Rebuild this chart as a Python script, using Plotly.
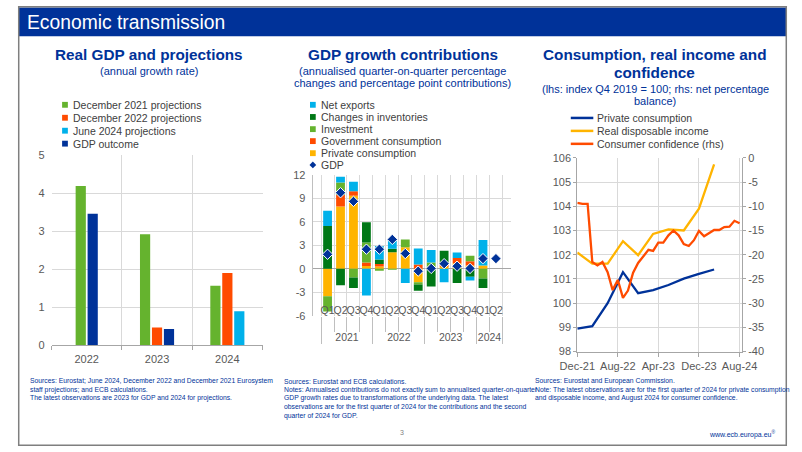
import plotly.graph_objects as go

# ---------------- data ----------------
# Chart 1: Real GDP and projections (annual growth rate)
years1 = ["2022", "2023", "2024"]
dec2021_proj = [4.19, 2.92, 1.56]
dec2022_proj = [None, 0.46, 1.90]
jun2024_proj = [None, None, 0.89]
gdp_outcome = [3.46, 0.42, None]
y1_ticks = [0, 1, 2, 3, 4, 5]

# Chart 2: GDP growth contributions
years2 = ["2021"] * 4 + ["2022"] * 4 + ["2023"] * 4 + ["2024"] * 2
quarters2 = ["Q1", "Q2", "Q3", "Q4"] * 3 + ["Q1", "Q2"]
private_cons_c = [-3.5, 7.95, 9.3, 0.35, 0.3, 2.1, 2.75, -1.7, 0.2, 0.3, 0.7, 0.42, 0.42, None]
government_c = [0.0, 1.45, 0.6, 0.45, 0.3, 0.0, 0.0, 0.55, 0.0, 0.2, 0.67, 0.53, 0.0, None]
investment_c = [-1.95, 1.6, -1.1, 2.55, -0.25, -0.1, 1.0, -0.3, 0.6, 0.0, 0.0, 0.7, -1.25, None]
inventories_c = [5.45, -2.1, -1.35, 2.6, 0.6, 0.45, 0.0, -0.8, -2.25, 1.8, -1.8, -1.0, -1.2, None]
net_exports_c = [1.95, 0.75, 1.2, -3.4, 1.7, 1.2, -1.8, 2.05, 1.6, -1.7, 0.7, -0.5, 3.25, None]
gdp_growth = [1.85, 9.7, 8.6, 2.5, 2.5, 3.75, 1.95, -0.3, 0.05, 0.65, 0.33, 0.05, 1.3, 1.3]
y2_ticks = [-6, -3, 0, 3, 6, 9, 12]

# Chart 3: Consumption, real income and confidence
quarter_dates = ["2021-12-01", "2022-03-01", "2022-06-01", "2022-09-01", "2022-12-01",
                 "2023-03-01", "2023-06-01", "2023-09-01", "2023-12-01", "2024-03-01"]
private_consumption = [98.95, 99.05, 100.0, 101.28, 100.41, 100.54, 100.75, 101.01, 101.21, 101.39]
real_disp_income = [102.09, 101.63, 101.63, 102.56, 101.98, 102.86, 103.05, 103.0, 103.9, 105.73]
month_dates = ["2021-12-01", "2022-01-01", "2022-02-01", "2022-03-01", "2022-04-01", "2022-05-01",
               "2022-06-01", "2022-07-01", "2022-08-01", "2022-09-01", "2022-10-01", "2022-11-01",
               "2022-12-01", "2023-01-01", "2023-02-01", "2023-03-01", "2023-04-01", "2023-05-01",
               "2023-06-01", "2023-07-01", "2023-08-01", "2023-09-01", "2023-10-01", "2023-11-01",
               "2023-12-01", "2024-01-01", "2024-02-01", "2024-03-01", "2024-04-01", "2024-05-01",
               "2024-06-01", "2024-07-01", "2024-08-01"]
consumer_confidence = [-9.3, -9.5, -9.5, -21.5, -22.2, -21.5, -23.6, -27.3, -25.2, -28.9, -27.4, -23.7,
                       -21.7, -20.3, -19.0, -19.2, -17.5, -17.5, -16.0, -15.0, -16.0, -17.8, -18.2, -17.0,
                       -15.1, -16.2, -15.5, -14.9, -14.9, -14.3, -14.2, -13.0, -13.5]
x3_tickdates = ["2021-12-01", "2022-08-01", "2023-04-01", "2023-12-01", "2024-08-01"]
x3_ticklabels = ["Dec-21", "Aug-22", "Apr-23", "Dec-23", "Aug-24"]
y3_ticks = [98, 99, 100, 101, 102, 103, 104, 105, 106]
y4_ticks = [-40, -35, -30, -25, -20, -15, -10, -5, 0]

# ---------------- style ----------------
W, H = 802, 452
def px(x): return x / W
def py(y): return 1 - y / H

FONT = "Liberation Sans, Arial, sans-serif"
NAVY = "#003299"
YELLOW = "#FFB400"
ORANGE = "#FF4B00"
GREEN = "#65B32E"
DKGREEN = "#007816"
LTBLUE = "#00B1EA"
GRID = "#D9D9D9"
AXIS = "#A6A6A6"
TICK = "#595959"
LEG = "#404040"
TF = dict(family=FONT, size=11, color=TICK)
LEG_SIZE = 10.5
TITLE_SIZE = 15.3

fig = go.Figure()

# ---- chart 1: grouped bars centred on their category ----
series1 = [("December 2021 projections", dec2021_proj, GREEN),
           ("December 2022 projections", dec2022_proj, ORANGE),
           ("June 2024 projections", jun2024_proj, LTBLUE),
           ("GDP outcome", gdp_outcome, NAVY)]
slot, barw = 0.17, 0.145
for name, vals, color in series1:
    xs, ys = [], []
    for i, v in enumerate(vals):
        if v is None:
            continue
        present = [s[0] for s in series1 if s[1][i] is not None]
        k = present.index(name)
        xs.append(i + (k - (len(present) - 1) / 2) * slot)
        ys.append(v)
    fig.add_trace(go.Bar(x=xs, y=ys, width=barw, name=name, marker=dict(color=color, line_width=0),
                         showlegend=False, xaxis="x", yaxis="y"))

# ---- chart 2: stacked contributions ----
series2 = [("Private consumption", private_cons_c, YELLOW),
           ("Government consumption", government_c, ORANGE),
           ("Investment", investment_c, GREEN),
           ("Changes in inventories", inventories_c, DKGREEN),
           ("Net exports", net_exports_c, LTBLUE)]
for name, vals, color in series2:
    fig.add_trace(go.Bar(x=[years2, quarters2], y=vals, width=0.68, name=name,
                         marker=dict(color=color, line_width=0), showlegend=False,
                         xaxis="x2", yaxis="y2"))
fig.add_trace(go.Scatter(x=[years2, quarters2], y=gdp_growth, mode="markers", name="GDP",
                         marker=dict(symbol="diamond", size=8, color=NAVY, line=dict(color="white", width=1)),
                         showlegend=False, xaxis="x2", yaxis="y2"))

# ---- chart 3: lines ----
fig.add_trace(go.Scatter(x=quarter_dates, y=private_consumption, mode="lines", name="Private consumption",
                         line=dict(color=NAVY, width=2.3), showlegend=False, xaxis="x3", yaxis="y3"))
fig.add_trace(go.Scatter(x=quarter_dates, y=real_disp_income, mode="lines", name="Real disposable income",
                         line=dict(color=YELLOW, width=2.3), showlegend=False, xaxis="x3", yaxis="y3"))
fig.add_trace(go.Scatter(x=month_dates, y=consumer_confidence, mode="lines", name="Consumer confidence (rhs)",
                         line=dict(color=ORANGE, width=2.3), showlegend=False, xaxis="x3", yaxis="y4"))

# ---------------- annotations ----------------
ann = []
def text(x, y, t, size=11, color=LEG, xanchor="left", yanchor="middle"):
    ann.append(dict(x=px(x), y=py(y), xref="paper", yref="paper", text=t, showarrow=False,
                    xanchor=xanchor, yanchor=yanchor, align="left",
                    font=dict(family=FONT, size=size, color=color)))

text(7, 17, "Economic transmission", size=19.3, color="white")

# chart titles
text(137, 50, "<b>Real GDP and projections</b>", TITLE_SIZE, NAVY, "center")
text(137, 67, "(annual growth rate)", 11, NAVY, "center")
text(401, 50, "<b>GDP growth contributions</b>", TITLE_SIZE, NAVY, "center")
text(401, 66.5, "(annualised quarter-on-quarter percentage", 11, NAVY, "center")
text(401, 79.5, "changes and percentage point contributions)", 11, NAVY, "center")
text(664, 50, "<b>Consumption, real income and</b>", TITLE_SIZE, NAVY, "center")
text(664, 68.5, "<b>confidence</b>", TITLE_SIZE, NAVY, "center")
text(665, 85, "(lhs: index Q4 2019 = 100; rhs: net percentage", 11, NAVY, "center")
text(664, 97.5, "balance)", 11, NAVY, "center")

shapes = []
# legends
leg1_y = [101.5, 114.8, 128.1, 141.4]
for (name, _, color), yy in zip(series1, leg1_y):
    shapes.append(dict(type="rect", xref="paper", yref="paper", x0=px(46), x1=px(52),
                       y0=py(yy + 3), y1=py(yy - 3), fillcolor=color, line_width=0))
    text(55, yy, name, LEG_SIZE, LEG)

leg2 = [("Net exports", LTBLUE), ("Changes in inventories", DKGREEN), ("Investment", GREEN),
        ("Government consumption", ORANGE), ("Private consumption", YELLOW)]
leg2_y = [101.5, 114, 126.5, 138.8, 151.2, 163.3]
for (name, color), yy in zip(leg2, leg2_y):
    shapes.append(dict(type="rect", xref="paper", yref="paper", x0=px(304.5), x1=px(310.5),
                       y0=py(yy + 3), y1=py(yy - 3), fillcolor=color, line_width=0))
    text(313.5, yy, name, LEG_SIZE, LEG)
cy = leg2_y[5]
shapes.append(dict(type="path", xref="paper", yref="paper",
                   path=f"M {px(307.5)},{py(cy-3.5)} L {px(311)},{py(cy)} L {px(307.5)},{py(cy+3.5)} L {px(304)},{py(cy)} Z",
                   fillcolor=NAVY, line_width=0))
text(313.5, cy, "GDP", LEG_SIZE, LEG)

leg3 = [("Private consumption", NAVY), ("Real disposable income", YELLOW), ("Consumer confidence (rhs)", ORANGE)]
leg3_y = [115, 128.3, 141.6]
for (name, color), yy in zip(leg3, leg3_y):
    shapes.append(dict(type="line", xref="paper", yref="paper", x0=px(576.5), x1=px(600),
                       y0=py(yy), y1=py(yy), line=dict(color=color, width=2.5)))
    text(602, yy, name, LEG_SIZE, LEG)

# footnotes
foot = [
    (10, ["Sources: Eurostat; June 2024, December 2022 and December 2021 Eurosystem",
          "staff projections; and ECB calculations.",
          "The latest observations are 2023 for GDP and 2024 for projections."]),
    (275, ["Sources: Eurostat and ECB calculations.",
           "Notes: Annualised contributions do not exactly sum to annualised quarter-on-quarter",
           "GDP growth rates due to transformations of the underlying data. The latest",
           "observations are for the first quarter of 2024 for the contributions and the second",
           "quarter of 2024 for GDP."]),
    (537, ["Sources: Eurostat and European Commission.",
           "Note: The latest observations are for the first quarter of 2024 for private consumption",
           "and disposable income, and August 2024 for consumer confidence."]),
]
for x0, lines in foot:
    for j, line in enumerate(lines):
        text(x0, 385.5 + j * 8.8, line, 6.8, NAVY)

text(400, 438, "3", 7, "#7F7F7F", "center")
text(792, 440, "www.ecb.europa.eu<sup>®</sup>", 7, NAVY, "right")

# title bar and frame
shapes.insert(0, dict(type="rect", xref="paper", yref="paper", x0=0, x1=1, y0=py(31), y1=py(1.5),
                      fillcolor=NAVY, line_width=0, layer="below"))
shapes.append(dict(type="rect", xref="paper", yref="paper", x0=px(0.75), x1=px(801.25),
                   y0=py(451.25), y1=py(0.75), line=dict(color="#7F7F7F", width=1.5)))

fig.update_layout(
    width=W, height=H, margin=dict(l=0, r=0, t=0, b=0, pad=0),
    paper_bgcolor="white", plot_bgcolor="white",
    barmode="relative", showlegend=False,
    font=dict(family=FONT, size=11, color=TICK),
    annotations=ann, shapes=shapes,
    xaxis=dict(domain=[px(35), px(255)], anchor="y", range=[-0.5, 2.5], tickvals=[0, 1, 2],
               ticktext=years1, showgrid=False, zeroline=False, ticks="", showline=True,
               linecolor=AXIS, linewidth=1, tickfont=TF, ticklabelstandoff=4,
               minor=dict(tickvals=[-0.5, 0.5, 1.5, 2.5], showgrid=True, gridcolor=GRID,
                          ticks="outside", ticklen=4, tickcolor=AXIS)),
    yaxis=dict(domain=[py(348.3), py(153.3)], anchor="x", range=[0, 5], tickvals=y1_ticks,
               ticktext=[str(v) for v in y1_ticks], showgrid=True, gridcolor=GRID, zeroline=False,
               showline=False, tickfont=TF, ticklabelstandoff=6),
    xaxis2=dict(type="multicategory", domain=[px(307.3), px(514)], anchor="y2",
                showgrid=True, gridcolor=GRID, showline=False, ticks="outside", ticklen=15,
                ticklabelstandoff=-13, tickcolor="#BFBFBF", dtick=1, tick0=0,
                showdividers=True, dividercolor="#BFBFBF", dividerwidth=1,
                tickangle=0, tickfont=dict(family=FONT, size=10.5, color=TICK), zeroline=False),
    yaxis2=dict(domain=[py(318.3), py(173.3)], anchor="x2", range=[-6, 12], tickvals=y2_ticks,
                ticktext=[str(v) for v in y2_ticks], showgrid=True, gridcolor=GRID,
                zeroline=True, zerolinecolor=AXIS, zerolinewidth=1, showline=True,
                linecolor="#BFBFBF", tickfont=TF, ticklabelstandoff=4),
    xaxis3=dict(type="date", domain=[px(583.3), px(755)], anchor="y3",
                range=["2021-12-01", "2024-08-15"], tickvals=x3_tickdates, ticktext=x3_ticklabels,
                showgrid=True, gridcolor=GRID, ticks="outside", ticklen=4, tickcolor=AXIS,
                showline=True, linecolor=AXIS, tickfont=TF, zeroline=False, tickangle=0),
    yaxis3=dict(domain=[py(355), py(156)], anchor="x3", range=[98, 106], tickvals=y3_ticks,
                ticktext=[str(v) for v in y3_ticks], showgrid=True, gridcolor=GRID,
                zeroline=False, showline=True, linecolor=AXIS, ticks="outside", ticklen=3,
                tickcolor=AXIS, tickfont=TF),
    yaxis4=dict(overlaying="y3", side="right", anchor="x3", range=[-40, 0], tickvals=y4_ticks,
                ticktext=[str(v) for v in y4_ticks], showgrid=False, zeroline=False, showline=True,
                linecolor=AXIS, ticks="outside", ticklen=3, tickcolor=AXIS, tickfont=TF),
)

fig.write_html("out.html")
